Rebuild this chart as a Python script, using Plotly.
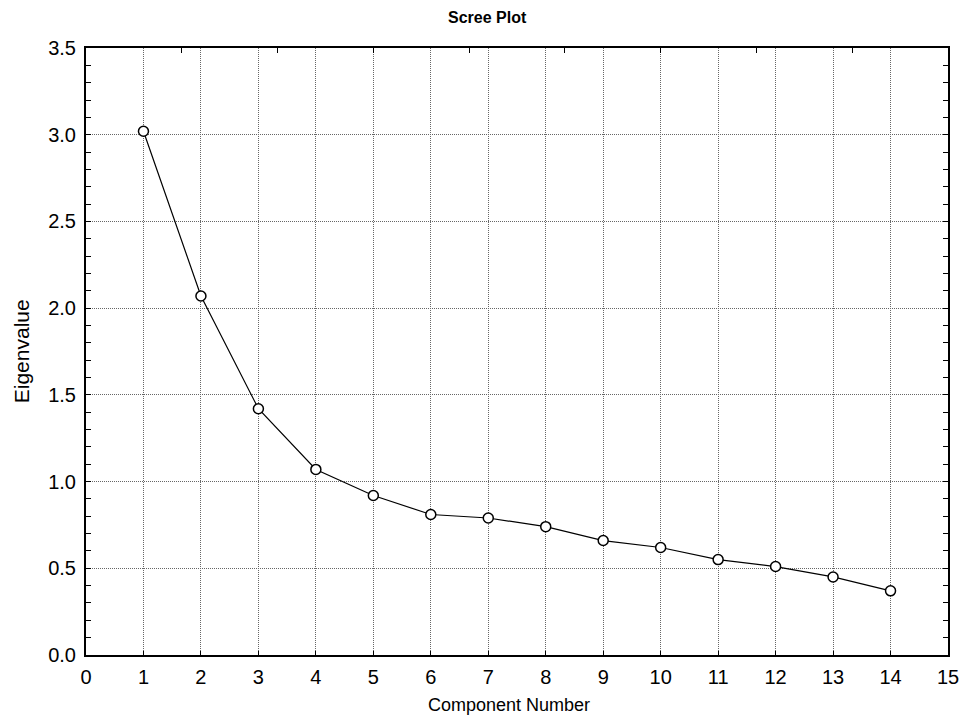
import plotly.graph_objects as go

components = list(range(1, 15))
eigenvalues = [3.02, 2.07, 1.42, 1.07, 0.92, 0.81, 0.79, 0.74, 0.66, 0.62, 0.55, 0.51, 0.45, 0.37]
title_text = "Scree Plot"
x_title = "Component Number"
y_title = "Eigenvalue"

fig = go.Figure()
fig.add_trace(go.Scatter(
    x=components, y=eigenvalues, mode="lines+markers",
    line=dict(color="black", width=1.2),
    marker=dict(symbol="circle", size=10, color="white", line=dict(color="black", width=1.5)),
    showlegend=False, hoverinfo="x+y"))
# invisible trace for the top tick axis
fig.add_trace(go.Scatter(x=[0, 9], y=[0, 0], xaxis="x2", mode="markers",
                         marker=dict(opacity=0), showlegend=False, hoverinfo="skip"))

font = "Liberation Sans, Arial, sans-serif"
grid = dict(showgrid=True, gridcolor="#666666", griddash="1px,1px", gridwidth=1)
fig.update_layout(
    width=971, height=725,
    margin=dict(l=86, r=13, t=48, b=70),
    paper_bgcolor="white", plot_bgcolor="white",
    font=dict(family=font, color="black"),
    xaxis=dict(range=[0, 15], dtick=1, tick0=0, zeroline=False, showline=True, linecolor="black",
               linewidth=2, mirror=True, ticks="inside", ticklen=4, tickcolor="black",
               tickfont=dict(size=20, family=font), ticklabelstandoff=3, **grid),
    xaxis2=dict(overlaying="x", side="top", range=[0, 9], dtick=1, showgrid=False, zeroline=False,
                showticklabels=False, ticks="inside", ticklen=5, tickcolor="black", showline=False),
    yaxis=dict(range=[0, 3.5], dtick=0.5, tick0=0, tickformat=".1f", zeroline=False, showline=True,
               linecolor="black", linewidth=2, mirror="allticks", ticks="inside", ticklen=5,
               tickcolor="black", tickfont=dict(size=20, family=font), ticklabelstandoff=4,
               minor=dict(dtick=0.1, ticks="inside", ticklen=4, tickcolor="black", showgrid=False),
               **grid),
    annotations=[
        dict(text="<b>" + title_text + "</b>", xref="paper", yref="paper", x=(492 - 86) / 872,
             y=1 + 30 / 607, xanchor="center", yanchor="middle", showarrow=False,
             font=dict(size=16, family=font, color="black")),
        dict(text=x_title, xref="paper", yref="paper", x=(514 - 86) / 872, y=-50 / 607,
             xanchor="center", yanchor="middle", showarrow=False,
             font=dict(size=18, family=font, color="black")),
        dict(text=y_title, xref="paper", yref="paper", x=-65 / 872, y=0.5, textangle=-90,
             xanchor="center", yanchor="middle", showarrow=False,
             font=dict(size=21, family=font, color="black")),
    ],
)
fig.write_html("out.html")
